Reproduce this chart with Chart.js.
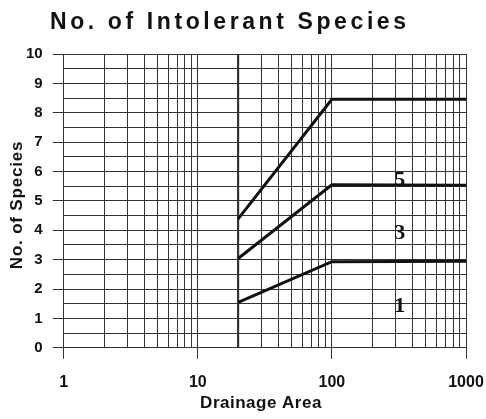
<!DOCTYPE html>
<html>
<head>
<meta charset="utf-8">
<script src="https://cdn.jsdelivr.net/npm/chart.js@4.4.0/dist/chart.umd.min.js"></script>
<style>
  body { margin: 0; background: #fff; }
  #wrap { width: 486px; height: 419px; }
</style>
</head>
<body>
<div id="wrap"><canvas id="chart"></canvas></div>
<script>
// data
var drainage = [20, 100, 1000];
var species1 = [1.55, 2.93, 2.95];
var species3 = [3.04, 5.55, 5.53];
var species5 = [4.39, 8.46, 8.46];

var curveLabels = ["5", "3", "1"];
var curveLabelX = [320, 320, 320];
var curveLabelY = [5.7, 3.9, 1.42];

var xTickLabels = [1, 10, 100, 1000];
var yTickLabels = [0, 1, 2, 3, 4, 5, 6, 7, 8, 9, 10];

var chartTitle = "No. of Intolerant Species";
var xTitle = "Drainage Area";
var yTitle = "No. of Species";

function pts(ys) {
  return drainage.map(function (x, i) { return { x: x, y: ys[i] }; });
}

function lineSet(ys) {
  return {
    data: pts(ys),
    showLine: true,
    borderColor: "#111",
    borderWidth: 3,
    pointRadius: 0,
    tension: 0
  };
}

var font = "'Liberation Sans', Arial, sans-serif";

// curve numbers, spaced-out title and axis titles
var extraText = {
  id: "extraText",
  afterDatasetsDraw: function (chart) {
    var ctx = chart.ctx;
    var xs = chart.scales.x, ys = chart.scales.y;
    ctx.save();
    ctx.fillStyle = "#111";
    ctx.font = "bold 22px 'Liberation Serif', 'DejaVu Serif', serif";
    ctx.textAlign = "center";
    ctx.textBaseline = "middle";
    curveLabels.forEach(function (t, i) {
      ctx.fillText(t, xs.getPixelForValue(curveLabelX[i]), ys.getPixelForValue(curveLabelY[i]));
    });

    ctx.font = "bold 17px " + font;
    ctx.letterSpacing = "0.5px";
    ctx.fillText(xTitle, 261, 403);
    ctx.save();
    ctx.translate(17, 205);
    ctx.rotate(-Math.PI / 2);
    ctx.letterSpacing = "0.8px";
    ctx.fillText(yTitle, 0, 0);
    ctx.restore();

    ctx.font = "bold 23px " + font;
    ctx.letterSpacing = "3.6px";
    ctx.textAlign = "left";
    ctx.textBaseline = "alphabetic";
    ctx.fillText(chartTitle, 50, 29);
    ctx.restore();
  }
};

new Chart(document.getElementById("chart"), {
  type: "scatter",
  data: { datasets: [lineSet(species1), lineSet(species3), lineSet(species5)] },
  options: {
    responsive: true,
    maintainAspectRatio: false,
    animation: false,
    layout: { padding: { top: 54, right: 20, left: 16, bottom: 13 } },
    plugins: {
      legend: { display: false },
      tooltip: { enabled: false },
      title: { display: false }
    },
    scales: {
      x: {
        type: "logarithmic",
        min: 1,
        max: 1000,
        afterBuildTicks: function (scale) {
          var t = [];
          for (var d = 1; d < 1000; d *= 10) {
            for (var k = 1; k < 10; k++) t.push({ value: k * d });
          }
          t.push({ value: 1000 });
          scale.ticks = t;
        },
        afterFit: function (scale) {
          // labels may run into the page margin, as in the original
          scale.paddingLeft = 0;
          scale.paddingRight = 0;
        },
        ticks: {
          autoSkip: false,
          maxRotation: 0,
          padding: 14,
          color: "#111",
          font: { family: font, size: 16, weight: "bold" },
          callback: function (v) {
            return xTickLabels.indexOf(v) >= 0 ? String(v) : "";
          }
        },
        grid: {
          color: "#333",
          lineWidth: function (c) { return c.tick && c.tick.value === 20 ? 2.2 : 1; },
          tickLength: 11,
          tickColor: function (c) {
            return c.tick && xTickLabels.indexOf(c.tick.value) >= 0 ? "#333" : "rgba(0,0,0,0)";
          }
        },
        border: { color: "#333" }
      },
      y: {
        min: 0,
        max: 10,
        ticks: {
          stepSize: 0.5,
          autoSkip: false,
          padding: 10,
          color: "#111",
          font: { family: font, size: 15, weight: "bold" },
          callback: function (v) {
            return yTickLabels.indexOf(v) >= 0 ? String(v) : "";
          }
        },
        grid: {
          color: "#333",
          tickLength: 11,
          tickColor: function (c) {
            return c.tick && yTickLabels.indexOf(c.tick.value) >= 0 ? "#333" : "rgba(0,0,0,0)";
          }
        },
        border: { color: "#333" }
      }
    }
  },
  plugins: [extraText]
});
</script>
</body>
</html>
